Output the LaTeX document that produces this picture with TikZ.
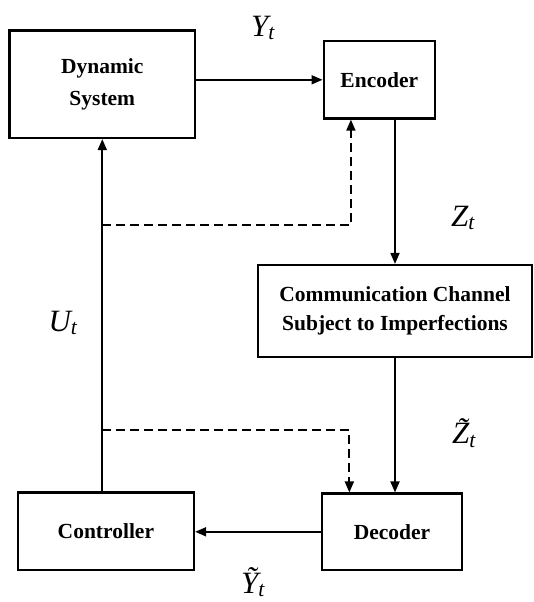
\documentclass[tikz,border=0pt]{standalone}
\usepackage{fontspec}
\setmainfont{Liberation Serif}
\usetikzlibrary{arrows.meta,calc}
\begin{document}
\begin{tikzpicture}[x=1pt,y=-1pt,
  blk/.style={draw,line width=2.2pt,align=center,inner sep=0pt,
    font=\bfseries\fontsize{21.5}{32}\selectfont},
  arr/.style={line width=1.8pt,-{Triangle[length=11pt,width=9pt]}},
  dsh/.style={line width=1.8pt,dash pattern=on 9pt off 5pt,-{Triangle[length=11pt,width=9pt]}},
  lbl/.style={font=\itshape\fontsize{31}{33}\selectfont,inner sep=0pt}]
\useasboundingbox (0,0) rectangle (534,602);
\node[blk,minimum width=185.5pt,minimum height=107.4pt] (dyn) at (102.3,84.3) {Dynamic\\System};
\node[blk,minimum width=111.4pt,minimum height=77.5pt] (enc) at (379.3,79.8) {Encoder};
\node[blk,minimum width=274pt,minimum height=91.6pt,font=\bfseries\fontsize{21.5}{29}\selectfont] (chan) at (395,310.8) {Communication Channel\\Subject to Imperfections};
\node[blk,minimum width=176.3pt,minimum height=77.5pt] (ctrl) at (105.9,531.3) {Controller};
\node[blk,minimum width=140pt,minimum height=76.5pt] (dec) at (392,531.8) {Decoder};
% main connectors
\draw[arr] (enc.west -| dyn.east) -- (enc.west);
\draw[arr] (enc.south -| chan.north) -- (chan.north);
\draw[arr] (chan.south) -- (chan.south |- dec.north);
\draw[arr] (dec.west) -- (dec.west -| ctrl.east);
\draw[arr] (ctrl.north -| dyn.south) -- (dyn.south);
% dashed side information
\coordinate (tapA) at (102.3,225);
\coordinate (tapB) at (102.3,430);
\draw[dsh] (tapA) -| ($(enc.south west)!0.25!(enc.south east)$);
\draw[dsh] (tapB) -| ($(dec.north west)!0.2!(dec.north east)$);
% labels
\node[lbl] (ly) at (263,28) {Y\textsubscript{t}};
\node[lbl] (lz) at (463,218) {Z\textsubscript{t}};
\node[lbl] (lu) at (63,323) {U\textsubscript{t}};
\node[lbl] (lzt) at (464,433) {\~{Z}\textsubscript{t}};
\node[lbl] (lyt) at (253,582) {\~{Y}\textsubscript{t}};
\end{tikzpicture}
\end{document}
